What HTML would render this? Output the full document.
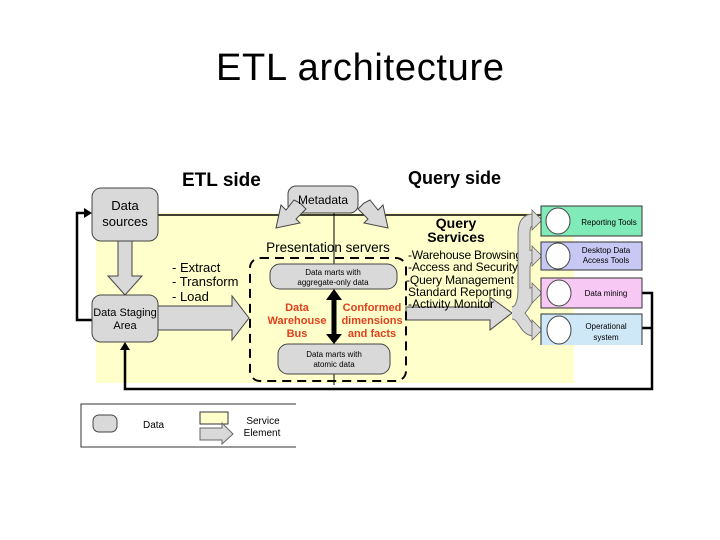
<!DOCTYPE html>
<html><head><meta charset="utf-8"><style>
body{margin:0;background:#fff;width:720px;height:540px;overflow:hidden}
svg{display:block;font-family:"Liberation Sans",sans-serif}
</style></head><body>
<svg width="720" height="540" viewBox="0 0 720 540">
<text x="360" y="80" font-size="38" text-anchor="middle" fill="#000" textLength="288">ETL architecture</text>
<rect x="96" y="213" width="478" height="170" fill="#ffffcc"/>
<text x="182" y="186" font-size="19" font-weight="bold">ETL side</text>
<text x="408" y="184" font-size="18" font-weight="bold">Query side</text>
<g stroke="#000" fill="none">
<line x1="150" y1="215" x2="542" y2="215" stroke-width="1.5"/>
<polyline points="92,320 77,320 77,213 90,213" stroke-width="2.5"/>
<polyline points="125,350 125,389 652,389 652,293 630,293" stroke-width="2.5"/>
<line x1="630" y1="328" x2="652" y2="328" stroke-width="2.5"/>
<line x1="334" y1="200" x2="334" y2="385" stroke-width="1"/>
</g>
<polygon points="84,208 92,213 84,218" fill="#000"/>
<polygon points="120,350 125,342 130,350" fill="#000"/>
<g fill="#d9d9d9" stroke="#444" stroke-width="1">
<polygon points="118,241 132,241 132,276 142,276 125,295 108,276 118,276"/>
<rect x="92" y="188" width="66" height="53" rx="9"/>
<rect x="92" y="295" width="66" height="47" rx="9"/>
<polygon points="158,306 232,306 232,296 249,318 232,340 232,330 158,330"/>
<rect x="288" y="186" width="70" height="27" rx="8"/>
<polygon points="300,203 306,209 296,219 300,223 276,228 281,205 286,210 294,200"/>
<polygon points="364,203 358,209 368,219 364,223 388,228 383,205 378,210 370,200"/>
<polygon points="406,307 490,307 490,297 512,313 490,330 490,320 406,320"/>
</g>
<g font-size="13" text-anchor="middle" fill="#000">
<text x="125" y="210">Data</text><text x="125" y="226">sources</text>
<text x="125" y="316" font-size="11">Data Staging</text><text x="125" y="329" font-size="11">Area</text>
<text x="323" y="204" font-size="12">Metadata</text>
</g>
<text x="328" y="252" font-size="13.5" text-anchor="middle">Presentation servers</text>
<g font-size="13"><text x="172" y="272">- Extract</text><text x="172" y="286">- Transform</text><text x="172" y="301">- Load</text></g>
<rect x="250" y="258" width="156" height="123" rx="10" fill="none" stroke="#000" stroke-width="2" stroke-dasharray="9,6"/>
<rect x="270" y="264" width="127" height="25" rx="10" fill="#d9d9d9" stroke="#444"/>
<rect x="278" y="344" width="112" height="30" rx="10" fill="#d9d9d9" stroke="#444"/>
<g font-size="8" text-anchor="middle"><text x="333" y="275">Data marts with</text><text x="333" y="285">aggregate-only data</text>
<text x="334" y="357">Data marts with</text><text x="334" y="367">atomic data</text></g>
<line x1="334" y1="298" x2="334" y2="336" stroke="#000" stroke-width="5"/>
<polygon points="326,300 334,289 342,300" fill="#000"/><polygon points="326,334 334,344 342,334" fill="#000"/>
<g font-size="11" font-weight="bold" fill="#e0401c" text-anchor="middle">
<text x="297" y="311">Data</text><text x="297" y="324">Warehouse</text><text x="297" y="337">Bus</text>
<text x="372" y="311">Conformed</text><text x="372" y="324">dimensions</text><text x="372" y="337">and facts</text></g>
<g font-size="14" font-weight="bold" text-anchor="middle"><text x="456" y="228">Query</text><text x="456" y="242">Services</text></g>
<g font-size="12"><text x="408" y="259" textLength="114">-Warehouse Browsing</text><text x="408" y="271" textLength="110">-Access and Security</text><text x="406" y="284" textLength="108">-Query Management</text><text x="408" y="296" textLength="104">Standard Reporting</text><text x="408" y="308" textLength="86">-Activity Monitor</text></g>
<g fill="none" stroke="#777" stroke-width="13">
<path d="M512,313 C522,313 524,303 524,290 L524,235 C524,222 528,220 534,220"/>
<path d="M512,313 C520,313 524,303 524,290 L524,270 C524,258 528,256 534,256"/>
<path d="M512,313 C524,313 526,295 534,293"/>
<path d="M512,313 C524,313 524,330 534,330"/>
</g>
<g fill="none" stroke="#d9d9d9" stroke-width="11">
<path d="M512,313 C522,313 524,303 524,290 L524,235 C524,222 528,220 534,220"/>
<path d="M512,313 C520,313 524,303 524,290 L524,270 C524,258 528,256 534,256"/>
<path d="M512,313 C524,313 526,295 534,293"/>
<path d="M512,313 C524,313 524,330 534,330"/>
</g>
<g fill="#d9d9d9" stroke="#666" stroke-width="0.8">
<polygon points="532,210 542,220 532,230"/><polygon points="532,246 542,256 532,266"/>
<polygon points="532,283 542,293 532,303"/><polygon points="532,320 542,330 532,340"/>
</g>
<rect x="541" y="206" width="101" height="30" fill="#80eab8" stroke="#333"/>
<rect x="541" y="242" width="101" height="28" fill="#c8c8f5" stroke="#333"/>
<rect x="541" y="278" width="101" height="30" fill="#f8c8f5" stroke="#333"/>
<path d="M541,345 L541,314 L642,314 L642,345" fill="#cfe8f8" stroke="#333"/>
<g fill="#fff" stroke="#444"><ellipse cx="558" cy="221" rx="12" ry="13"/><ellipse cx="558" cy="256" rx="12" ry="13"/><ellipse cx="559" cy="293" rx="12" ry="13"/><ellipse cx="559" cy="330" rx="12" ry="14"/></g>
<g font-size="8" text-anchor="middle"><text x="609" y="225">Reporting Tools</text><text x="606" y="253">Desktop Data</text><text x="606" y="263">Access Tools</text><text x="606" y="296">Data mining</text><text x="606" y="329">Operational</text><text x="606" y="340">system</text></g>
<polyline points="296,404 81,404 81,447 296,447" fill="none" stroke="#333"/>
<rect x="93" y="415" width="24" height="17" rx="6" fill="#d9d9d9" stroke="#444"/>
<text x="143" y="428" font-size="10">Data</text>
<rect x="200" y="412" width="28" height="12" fill="#ffffcc" stroke="#333"/>
<polygon points="200,428 222,428 222,423 233,434 222,444 222,440 200,440" fill="#d9d9d9" stroke="#666"/>
<text x="263" y="424" font-size="10" text-anchor="middle">Service</text><text x="262" y="436" font-size="10" text-anchor="middle">Element</text>
</svg>
</body></html>
